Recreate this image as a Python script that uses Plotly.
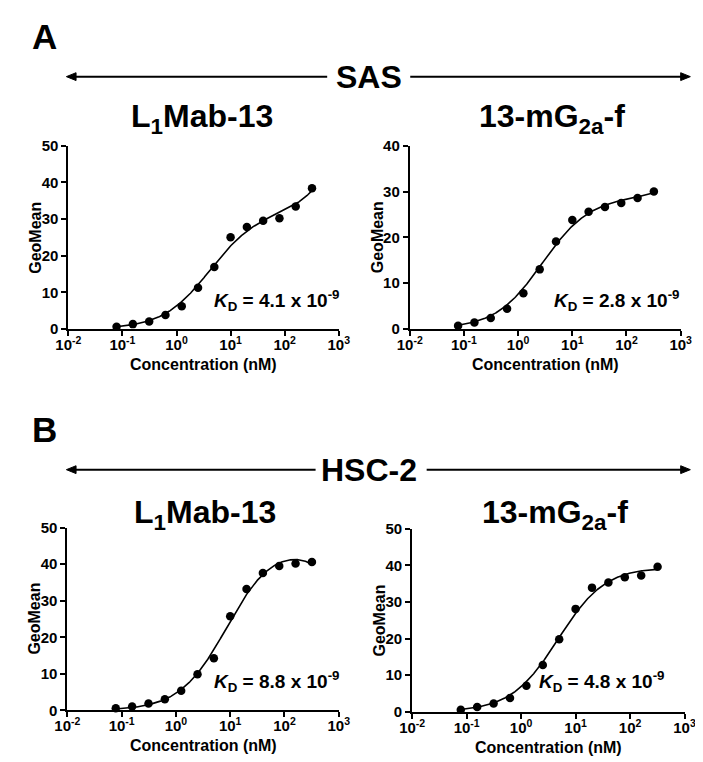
import numpy as np
import plotly.graph_objects as go

# ---------------- data ----------------
conc = [0.078, 0.156, 0.3125, 0.625, 1.25, 2.5, 5, 10, 20, 40, 80, 160, 320]
sas_l1mab13 = [0.6, 1.3, 2.0, 3.8, 6.2, 11.2, 16.9, 25.0, 27.8, 29.5, 30.2, 33.4, 38.4]
sas_13mg2af = [0.7, 1.4, 2.4, 4.4, 7.8, 13.0, 19.1, 23.8, 25.6, 26.6, 27.5, 28.6, 30.0]
hsc_l1mab13 = [0.6, 1.1, 1.9, 3.1, 5.4, 9.9, 14.3, 25.8, 33.2, 37.6, 39.5, 40.2, 40.6]
hsc_13mg2af = [0.6, 1.3, 2.3, 3.8, 7.1, 12.8, 19.8, 28.1, 33.9, 35.3, 36.7, 37.2, 39.6]
kd_nM = [4.1, 2.8, 8.8, 4.8]
kd_labels = ["4.1", "2.8", "8.8", "4.8"]
panel_titles = ["L<sub>1</sub>Mab-13", "13-mG<sub>2a</sub>-f", "L<sub>1</sub>Mab-13", "13-mG<sub>2a</sub>-f"]
section_labels = ["A", "B"]
section_headers = ["SAS", "HSC-2"]
y_max = [50, 40, 50, 50]
x_tickvals = [0.01, 0.1, 1, 10, 100, 1000]
x_ticktext = ["10<sup>-2</sup>", "10<sup>-1</sup>", "10<sup>0</sup>", "10<sup>1</sup>", "10<sup>2</sup>", "10<sup>3</sup>"]

W, H = 703, 762
FONT = "Liberation Sans, Arial, Helvetica, sans-serif"


def px(x):
    return x / W


def py(y):
    return 1 - y / H


# plot-area boxes in pixels: (left, right, top, bottom)
boxes = [(49, 329, 131.7, 319), (402.5, 683, 131.7, 319),
         (48, 329, 522.3, 709.3), (405, 687, 523.3, 710.7)]

series = [sas_l1mab13, sas_13mg2af, hsc_l1mab13, hsc_13mg2af]

fig = go.Figure()

for i, (ys, kd) in enumerate(zip(series, kd_nM)):
    xa = "x" if i == 0 else f"x{i+1}"
    ya = "y" if i == 0 else f"y{i+1}"
    xarr = np.array(conc, dtype=float)
    yarr = np.array(ys, dtype=float)
    # one site total binding fit (Kd fixed at the reported value): Y = Bmax*x/(Kd+x) + NS*x
    A = np.column_stack([xarr / (kd + xarr), xarr])
    coef, *_ = np.linalg.lstsq(A, yarr, rcond=None)
    xf = np.logspace(np.log10(xarr.min()), np.log10(xarr.max()), 300)
    yf = coef[0] * xf / (kd + xf) + coef[1] * xf
    fig.add_trace(go.Scatter(x=xf, y=yf, mode="lines", line=dict(color="black", width=1.6),
                             xaxis=xa, yaxis=ya, showlegend=False, hoverinfo="skip"))
    fig.add_trace(go.Scatter(x=conc, y=ys, mode="markers", marker=dict(color="black", size=8.5),
                             xaxis=xa, yaxis=ya, showlegend=False, cliponaxis=False))

layout = dict(width=W, height=H, margin=dict(l=0, r=0, t=0, b=0),
              paper_bgcolor="white", plot_bgcolor="white", showlegend=False,
              font=dict(family=FONT, color="black"))

for i, (l, r, t, b) in enumerate(boxes):
    xk = "xaxis" if i == 0 else f"xaxis{i+1}"
    yk = "yaxis" if i == 0 else f"yaxis{i+1}"
    ya_id = "y" if i == 0 else f"y{i+1}"
    xa_id = "x" if i == 0 else f"x{i+1}"
    layout[xk] = dict(type="log", range=[-2, 3], domain=[px(l), px(r)], anchor=ya_id,
                      tickvals=x_tickvals, ticktext=x_ticktext, ticklabelstandoff=-4,
                      showline=True, linewidth=2, linecolor="black",
                      ticks="outside", ticklen=5, tickwidth=2, tickcolor="black",
                      showgrid=False, zeroline=False,
                      tickfont=dict(size=15, family=FONT, weight="bold"))
    layout[yk] = dict(range=[0, y_max[i]], dtick=10, domain=[py(b), py(t)], anchor=xa_id,
                      showline=True, linewidth=2, linecolor="black",
                      ticks="outside", ticklen=5, tickwidth=2, tickcolor="black",
                      showgrid=False, zeroline=False,
                      tickfont=dict(size=15, family=FONT, weight="bold"))

fig.update_layout(**layout)

ann = []
shapes = []
bold = dict(family=FONT, color="black", weight="bold")

# section labels and double-headed arrows with header text
# (label cap-middle y, arrow y, text left gap end, text right gap start)
section_geo = [(20, 61, 317, 403), (422, 463, 305, 420)]
for lab, hdr, (ly, ay, lend, rstart) in zip(section_labels, section_headers, section_geo):
    ann.append(dict(x=px(9), y=py(ly), text=lab, showarrow=False, xanchor="left", yanchor="middle",
                    font=dict(size=35, **bold)))
    ann.append(dict(x=px(360), y=py(ay), text=hdr, showarrow=False, xanchor="center", yanchor="middle",
                    font=dict(size=32, **bold)))
    # line segments
    shapes.append(dict(type="line", xref="paper", yref="paper", x0=px(54), x1=px(lend),
                       y0=py(ay), y1=py(ay), line=dict(color="black", width=2)))
    shapes.append(dict(type="line", xref="paper", yref="paper", x0=px(rstart), x1=px(686),
                       y0=py(ay), y1=py(ay), line=dict(color="black", width=2)))
    # arrow heads (filled triangles)
    left_head = f"M {px(47)} {py(ay)} L {px(57)} {py(ay - 4)} L {px(57)} {py(ay + 4)} Z"
    right_head = f"M {px(693)} {py(ay)} L {px(683)} {py(ay - 4)} L {px(683)} {py(ay + 4)} Z"
    for pth in (left_head, right_head):
        shapes.append(dict(type="path", xref="paper", yref="paper", path=pth,
                           fillcolor="black", line=dict(color="black", width=1)))

# panel titles (center x, middle y)
title_pos = [(187, 104), (550, 104), (191, 509), (553, 509)]
for (cx, cy), txt in zip(title_pos, panel_titles):
    ann.append(dict(x=px(cx), y=py(cy), text=txt, showarrow=False, xanchor="center", yanchor="middle",
                    font=dict(size=32, **bold)))

# KD annotations (right edge, middle y)
kd_pos = [(332, 290), (684, 290), (332, 680), (669, 680)]
for (rx, my), lab in zip(kd_pos, kd_labels):
    ann.append(dict(x=px(rx), y=py(my), text=f"<i>K</i><sub>D</sub> = {lab} x 10<sup>-9</sup>",
                    showarrow=False, xanchor="right", yanchor="middle",
                    font=dict(size=19, **bold)))

# axis titles
for i, (l, r, t, b) in enumerate(boxes):
    ann.append(dict(x=px(l - 34), y=py((t + b) / 2), text="GeoMean", textangle=-90, showarrow=False,
                    xanchor="center", yanchor="middle", font=dict(size=16, **bold)))
    ann.append(dict(x=px((l + r) / 2), y=py(b + 36), text="Concentration (nM)", showarrow=False,
                    xanchor="center", yanchor="middle", font=dict(size=16, **bold)))

for a in ann:
    a.setdefault("xref", "paper")
    a.setdefault("yref", "paper")

fig.update_layout(annotations=ann, shapes=shapes)
fig.write_html("out.html")
